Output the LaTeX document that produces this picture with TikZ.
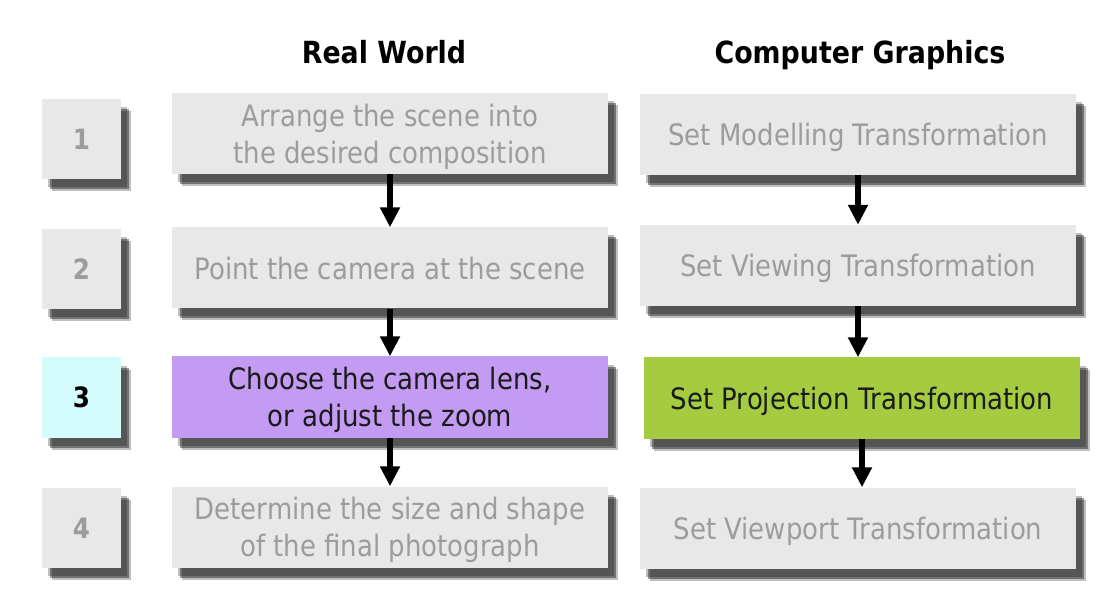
\documentclass[tikz,border=0pt]{standalone}
\usepackage{fontspec}
\setmainfont{DejaVu Sans}[FakeStretch=0.88]
\usetikzlibrary{arrows.meta,shadows,backgrounds}
\definecolor{boxgrey}{HTML}{E8E8E8}
\definecolor{fadetext}{HTML}{9C9C9C}
\definecolor{lens}{HTML}{C39BF3}
\definecolor{proj}{HTML}{A5CB41}
\definecolor{stepcyan}{HTML}{D4FCFC}
\definecolor{darktext}{HTML}{1A1A1A}
\tikzset{
  shadowed/.style={
    drop shadow={shadow xshift=6pt, shadow yshift=-8pt, fill=black, opacity=0.25},
    drop shadow={shadow xshift=8pt, shadow yshift=-10pt, fill=black, opacity=0.4},
    drop shadow={shadow xshift=10pt, shadow yshift=-12pt, fill=black, opacity=0.25}},
  numbox/.style={shadowed, minimum width=79pt, minimum height=80pt, inner sep=0pt,
    font=\fontsize{28}{28}\selectfont\bfseries},
  stagebox/.style={shadowed, minimum width=436pt, minimum height=81pt, inner sep=0pt,
    align=center, text depth=0pt, font=\fontsize{29.5}{37}\selectfont},
  dim/.style={fill=boxgrey, text=fadetext},
  flow/.style={line width=5.5pt, -{Triangle[width=19pt,length=20pt]}},
  head/.style={anchor=base, font=\fontsize{30.5}{30.5}\selectfont\bfseries}
}
\begin{document}
\begin{tikzpicture}[x=1pt,y=-1pt]
  \useasboundingbox (0,0) rectangle (1106,612);

  \node[head] (rw) at (384,64) {Real World};
  \node[head] (cg) at (860,64) {Computer Graphics};

  % step numbers
  \node[numbox,dim] (n1) at (81.5,139) {1};
  \node[numbox,dim] (n2) at (81.5,269) {2};
  \node[numbox,fill=stepcyan,text=black] (n3) at (81.5,397.5) {3};
  \node[numbox,dim] (n4) at (81.5,528) {4};

  % real world column
  \node[stagebox,dim] (r1) at (390,133.5) {Arrange the scene into\\the desired composition};
  \node[stagebox,dim] (r2) at (390,268) {Point the camera at the scene};
  \node[stagebox,fill=lens,text=darktext] (r3) at (390,397) {Choose the camera lens,\\or adjust the zoom};
  \node[stagebox,dim] (r4) at (390,527) {Determine the size and shape\\of the final photograph};

  % computer graphics column
  \node[stagebox,dim] (c1) at (858,134.5) {Set Modelling Transformation};
  \node[stagebox,dim] (c2) at (858,265.5) {Set Viewing Transformation};
  \node[stagebox,fill=proj,text=darktext] (c3) at (862,398) {Set Projection Transformation};
  \node[stagebox,dim] (c4) at (858,528) {Set Viewport Transformation};

  \begin{scope}[on background layer]
    \fill[white] (0,0) rectangle (1106,612);
    \foreach \a/\b in {r1/r2,r2/r3,r3/r4,c1/c2,c2/c3,c3/c4}
      \draw[flow] (\a.south) -- (\a.south |- \b.north);
  \end{scope}
\end{tikzpicture}
\end{document}
